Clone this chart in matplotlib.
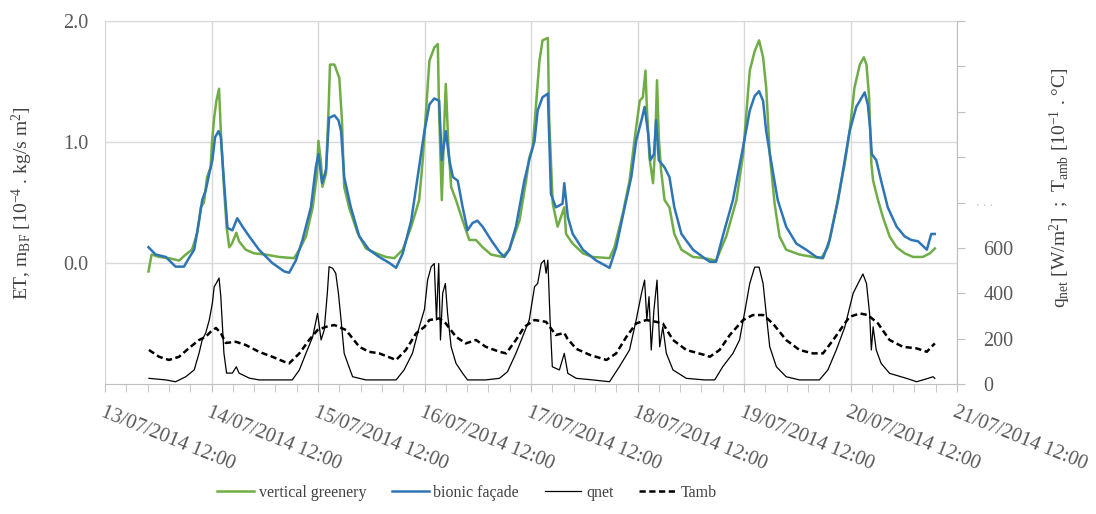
'''
evapotranspiration of vertical greenery vs bionic facade, with qnet and Tamb
'''

import numpy as np
import pandas as pd
import matplotlib
matplotlib.use('Agg')
import matplotlib.pyplot as plt
import matplotlib.dates as mdates
from matplotlib.ticker import FixedLocator, FuncFormatter, AutoMinorLocator

plt.rcParams['font.family'] = ['Liberation Serif', 'DejaVu Serif']
plt.rcParams['mathtext.fontset'] = 'custom'
plt.rcParams['mathtext.rm'] = 'Liberation Serif'
plt.rcParams['mathtext.it'] = 'Liberation Serif:italic'

# hours after 13/07/2014 12:00
green_h = [9.8, 10.5, 12.2, 14.4, 16.7, 18.2, 19.6, 20.8, 21.6, 22.3, 23.0, 23.8, 24.1, 24.6, 25.1, 25.7, 26.1, 26.8, 27.4, 28.0, 28.6, 29.6, 30.2, 31.7, 33.6, 36.2, 39.2,
           42.6, 43.8, 45.3, 46.8, 47.7, 48.1, 48.7, 49.0, 49.8, 50.4, 50.7, 51.7, 52.8, 53.4, 53.9, 55.0, 56.9, 58.8, 61.1, 63.3, 65.2, 67.1, 69.0, 70.8,
           71.6, 72.3, 73.1, 74.2, 75.0, 75.3, 75.9, 76.5, 76.8, 77.4, 78.0, 79.1, 80.6, 82.1, 83.6, 85.1, 87.0, 89.6, 91.1, 93.4, 94.9, 95.6, 96.4, 97.1, 97.9, 98.6, 99.8, 100.1, 100.9, 102.0,
           103.5, 103.9, 105.4, 107.7, 109.9, 113.7, 114.8, 116.7, 118.2, 119.3, 120.5, 121.2, 121.8, 122.1, 122.7, 123.5, 123.9, 124.4, 124.8, 125.3, 126.1, 127.2, 128.3, 129.9, 132.5, 135.1,
           137.7, 140.0, 142.3, 143.8, 145.3, 146.4, 147.4, 148.3, 149.0, 149.8, 150.9, 152.0, 153.5, 156.5, 159.5, 161.4, 162.9, 164.8, 166.7,
           167.8, 168.9, 170.1, 171.0, 171.6, 172.2, 172.7, 173.1, 174.2, 175.3, 176.8, 178.4, 180.2, 182.1, 184.3, 185.9, 187.0]
green_v = [-0.07, 0.07, 0.05, 0.04, 0.02, 0.07, 0.11, 0.25, 0.46, 0.50, 0.71, 0.79, 0.99, 1.20, 1.34, 1.44, 1.09, 0.63, 0.30, 0.13, 0.16, 0.25, 0.18, 0.11, 0.08, 0.07, 0.05,
           0.04, 0.11, 0.22, 0.46, 0.71, 1.01, 0.82, 0.63, 0.74, 1.29, 1.64, 1.64, 1.53, 1.18, 0.63, 0.46, 0.25, 0.12, 0.08, 0.05, 0.04, 0.11, 0.30, 0.52,
           0.85, 1.23, 1.67, 1.78, 1.81, 1.23, 0.52, 1.20, 1.48, 0.96, 0.63, 0.52, 0.35, 0.19, 0.19, 0.13, 0.07, 0.05, 0.11, 0.35, 0.68, 0.87, 0.96, 1.29, 1.67, 1.84, 1.86, 1.18, 0.49, 0.30,
           0.46, 0.24, 0.16, 0.08, 0.05, 0.04, 0.13, 0.41, 0.68, 1.01, 1.34, 1.37, 1.59, 1.29, 0.87, 0.66, 0.90, 1.51, 1.04, 0.77, 0.52, 0.46, 0.24, 0.11, 0.05, 0.04,
           0.02, 0.22, 0.52, 0.90, 1.59, 1.75, 1.84, 1.70, 1.45, 0.90, 0.49, 0.22, 0.11, 0.07, 0.05, 0.04, 0.13, 0.46, 0.82,
           1.09, 1.45, 1.64, 1.70, 1.64, 1.37, 0.82, 0.68, 0.52, 0.38, 0.22, 0.13, 0.08, 0.05, 0.05, 0.08, 0.12]

blue_h = [9.8, 11.4, 13.7, 15.9, 17.8, 18.9, 20.1, 21.2, 21.9, 22.7, 23.5, 24.2, 24.8, 25.6, 26.1, 26.8, 27.6, 28.7, 29.8, 31.0, 32.5, 34.7, 37.7, 40.4,
          41.5, 43.0, 44.5, 46.4, 47.5, 48.1, 48.9, 49.8, 50.5, 51.7, 52.6, 53.2, 53.9, 55.4, 57.3, 59.5, 61.8, 64.1, 65.6, 67.1, 69.0, 70.8,
          71.9, 73.1, 74.2, 75.3, 75.9, 76.8, 77.6, 78.4, 79.5, 80.6, 81.7, 82.8, 83.9, 85.1, 87.0, 88.9, 90.0, 91.1, 92.6, 94.5, 95.6, 96.8, 97.5, 98.6, 99.8, 100.5, 101.6, 103.1,
          103.5, 104.3, 105.4, 107.7, 110.7, 113.7, 115.2, 117.1, 118.6, 119.7, 120.9, 121.6, 122.4, 122.9, 123.7, 124.2, 124.8, 126.1, 127.2, 128.3, 129.9, 132.5, 135.1,
          136.3, 137.7, 139.2, 141.5, 143.8, 145.3, 146.4, 147.4, 148.3, 149.0, 150.2, 151.6, 153.5, 155.8, 158.0, 160.3, 161.8, 163.3, 165.2, 166.7,
          167.8, 169.3, 170.4, 171.2, 171.9, 172.4, 172.8, 173.8, 174.9, 176.4, 178.4, 180.2, 181.7, 183.2, 185.2, 186.2, 187.0]
blue_v = [0.13, 0.07, 0.05, -0.03, -0.03, 0.04, 0.11, 0.35, 0.52, 0.60, 0.74, 0.85, 1.04, 1.09, 1.04, 0.68, 0.29, 0.27, 0.37, 0.30, 0.22, 0.11, 0.0, -0.07,
          -0.08, 0.02, 0.19, 0.46, 0.79, 0.90, 0.66, 0.77, 1.20, 1.22, 1.18, 1.09, 0.71, 0.46, 0.22, 0.11, 0.05, 0.0, -0.04, 0.08, 0.35, 0.80,
          1.07, 1.31, 1.36, 1.34, 0.85, 1.09, 0.85, 0.71, 0.68, 0.46, 0.27, 0.33, 0.35, 0.30, 0.19, 0.09, 0.05, 0.11, 0.30, 0.68, 0.85, 1.01, 1.26, 1.37, 1.40, 0.57, 0.46, 0.49,
          0.66, 0.38, 0.24, 0.11, 0.02, -0.04, 0.13, 0.46, 0.71, 1.01, 1.18, 1.29, 1.07, 0.85, 0.90, 1.18, 0.85, 0.79, 0.71, 0.46, 0.24, 0.11, 0.04,
          0.01, 0.01, 0.22, 0.52, 0.96, 1.26, 1.38, 1.42, 1.34, 1.09, 0.82, 0.52, 0.30, 0.16, 0.11, 0.05, 0.04, 0.19, 0.52, 0.85,
          1.09, 1.29, 1.36, 1.41, 1.31, 1.12, 0.90, 0.85, 0.68, 0.46, 0.30, 0.22, 0.19, 0.18, 0.11, 0.24, 0.24]

qnet_h = [9.9, 13.7, 15.9, 18.2, 20.1, 21.2, 21.9, 22.7, 23.5, 24.2, 24.6, 25.1, 25.7, 26.1, 26.8, 27.4, 28.7, 29.6, 30.2, 32.5, 34.7, 40.4,
          42.2, 43.8, 45.3, 46.8, 47.9, 48.7, 49.4, 50.1, 50.5, 51.3, 52.0, 52.6, 53.2, 53.9, 54.7, 55.8, 58.8, 65.6, 67.4, 69.3, 70.8, 72.0,
          72.7, 73.5, 74.2, 74.7, 75.2, 75.6, 76.1, 76.7, 77.2, 78.0, 79.1, 80.6, 81.7, 85.8, 88.9, 90.7, 92.6, 94.1, 95.6, 96.8, 97.5, 98.3, 99.0, 99.4, 99.8, 100.3, 100.8, 102.4,
          103.5, 104.3, 106.2, 109.9, 113.7, 115.9, 118.2, 119.7, 120.9, 121.6, 122.1, 122.6, 123.1, 123.7, 124.4, 125.0, 125.7, 126.5, 128.0, 131.0, 135.1,
          137.4, 139.2, 141.5, 143.0, 144.1, 145.3, 146.4, 147.4, 148.3, 149.0, 149.8, 151.3, 153.5, 156.5, 161.0, 162.9, 164.8, 166.7,
          168.6, 169.7, 170.8, 171.6, 172.3, 172.7, 173.1, 173.8, 174.9, 176.8, 180.6, 182.9, 185.5, 186.6, 187.0]
qnet_v = [25, 18, 10, 32, 62, 136, 194, 225, 282, 357, 428, 445, 467, 385, 136, 48, 48, 76, 48, 26, 18, 18,
          18, 62, 136, 208, 311, 194, 238, 400, 517, 510, 488, 400, 282, 135, 91, 32, 18, 18, 62, 136, 250, 330,
          458, 517, 531, 282, 531, 194, 400, 443, 311, 164, 91, 47, 18, 18, 25, 54, 135, 208, 282, 429, 443, 531, 546, 488, 546, 282, 76, 62,
          135, 47, 25, 18, 10, 76, 150, 282, 400, 458, 282, 385, 150, 326, 458, 164, 252, 135, 62, 25, 18,
          18, 76, 135, 194, 311, 443, 515, 515, 443, 311, 164, 76, 32, 18, 18, 62, 150, 250,
          400, 443, 485, 443, 311, 150, 252, 150, 91, 47, 25, 10, 25, 32, 25]

tamb_h = [9.9, 12.2, 14.4, 16.7, 18.9, 21.2, 22.7, 23.8, 25.0, 26.1, 27.2, 29.5, 31.7, 34.7, 37.7, 40.4,
          41.5, 43.8, 46.0, 47.9, 49.8, 51.7, 54.3, 57.3, 59.5, 61.8, 65.6, 67.8, 70.1, 72.0,
          73.1, 75.3, 76.8, 79.1, 81.3, 83.6, 85.8, 88.9, 90.4, 92.6, 94.5, 96.8, 99.4, 101.6, 103.5,
          104.2, 106.2, 109.3, 113.0, 115.2, 117.5, 119.7, 122.0, 124.2, 125.7, 128.0, 131.0, 135.1,
          136.3, 138.5, 140.8, 143.8, 146.0, 148.3, 150.5, 153.5, 156.5, 159.5, 161.8, 164.1, 166.7,
          167.8, 170.1, 171.9, 174.2, 176.8, 179.8, 182.9, 185.2, 187.0]
tamb_v = [150, 120, 106, 120, 158, 194, 208, 230, 247, 225, 181, 186, 172, 142, 120, 98,
          91, 135, 194, 238, 252, 260, 238, 164, 142, 135, 106, 150, 223, 252,
          282, 289, 267, 208, 179, 194, 164, 142, 135, 194, 252, 282, 274, 216, 225,
          200, 155, 128, 106, 135, 208, 267, 282, 274, 267, 194, 150, 128,
          120, 150, 216, 282, 304, 304, 267, 194, 150, 135, 135, 194, 267,
          296, 311, 304, 267, 194, 164, 157, 142, 179]

start = pd.Timestamp('2014-07-13 12:00')
def to_time(h):
    return start + pd.to_timedelta(np.array(h), unit='h')

grey_txt = '#595959'
grid_c = '#d9d9d9'
axis_c = '#bfbfbf'

fig = plt.figure(figsize=(10.96, 5.14), dpi=100)
ax = fig.add_axes([105/1096, 1 - 384/514, 852/1096, 363/514])
ax2 = ax.twinx()

l1, = ax.plot(to_time(green_h), green_v, color='#70AD47', lw=1.8, label='vertical greenery')
l2, = ax.plot(to_time(blue_h), blue_v, color='#2E75B6', lw=1.8, label='bionic façade')
l3, = ax2.plot(to_time(qnet_h), qnet_v, color='black', lw=0.9, label='qnet')
l4, = ax2.plot(to_time(tamb_h), tamb_v, color='black', lw=1.8, ls=(0, (2.5, 1.4)), label='Tamb')

# x axis: one tick per day at noon, 5 minor steps
ax.set_xlim(start, start + pd.Timedelta(days=8))
ax.xaxis.set_major_locator(mdates.HourLocator(byhour=[12]))
ax.xaxis.set_major_formatter(mdates.DateFormatter('%d/%m/%Y %H:%M'))
ax.xaxis.set_minor_locator(AutoMinorLocator(5))
ax.tick_params(axis='x', which='both', direction='out', length=6, color=axis_c,
               labelsize=14.5, labelcolor=grey_txt, pad=8)
for lab in ax.get_xticklabels():
    lab.set_rotation(-22)
    lab.set_ha('left')
    lab.set_va('top')
    lab.set_rotation_mode('anchor')

# left axis
ax.set_ylim(-1, 2)
ax.yaxis.set_major_locator(FixedLocator([0, 1, 2]))
ax.yaxis.set_major_formatter(FuncFormatter(lambda v, p: '%.1f' % v))
ax.tick_params(axis='y', length=0, labelsize=14.5, labelcolor=grey_txt, pad=12)
ax.grid(True, which='major', color=grid_c, lw=1)

# right axis
ax2.set_ylim(0, 1600)
ax2.yaxis.set_major_locator(FixedLocator(list(range(0, 1601, 200))))
ax2.yaxis.set_major_formatter(FuncFormatter(lambda v, p: '%d' % v if v <= 600 else ''))
ax2.tick_params(axis='y', direction='out', length=6, color=axis_c,
                labelsize=14.5, labelcolor=grey_txt, pad=13)
ax2.text(1.022, 800, '. . .', transform=ax2.get_yaxis_transform(), color='#c8c8c8',
         fontsize=10, va='center', ha='left')

for s in ['left', 'top']:
    ax.spines[s].set_color(grid_c)
    ax2.spines[s].set_visible(False)
ax.spines['bottom'].set_color(axis_c)
ax2.spines['bottom'].set_visible(False)
ax.spines['right'].set_visible(False)
ax2.spines['right'].set_color(axis_c)

fig.text(22/1096, 1 - 203/514, r'ET, m$_{\mathrm{BF}}$ [10$^{-4}$ . kg/s m$^2$]',
         rotation=90, ha='center', va='center', fontsize=14, color='#404040')
fig.text(1060/1096, 1 - 188/514, r'q$_{\mathrm{net}}$ [W/m$^2$]  ;  T$_{\mathrm{amb}}$ [10$^{-1}$ . °C]',
         rotation=90, ha='center', va='center', fontsize=14, color='#404040')

fig.legend([l1, l2, l3, l4], [l.get_label() for l in [l1, l2, l3, l4]],
           loc='center', bbox_to_anchor=(467/1096, 1 - 493/514), ncol=4, frameon=False,
           fontsize=11.5, handlelength=2.3, columnspacing=1.6, handletextpad=0.3,
           labelcolor='#404040')

fig.savefig('out.png', dpi=100)
